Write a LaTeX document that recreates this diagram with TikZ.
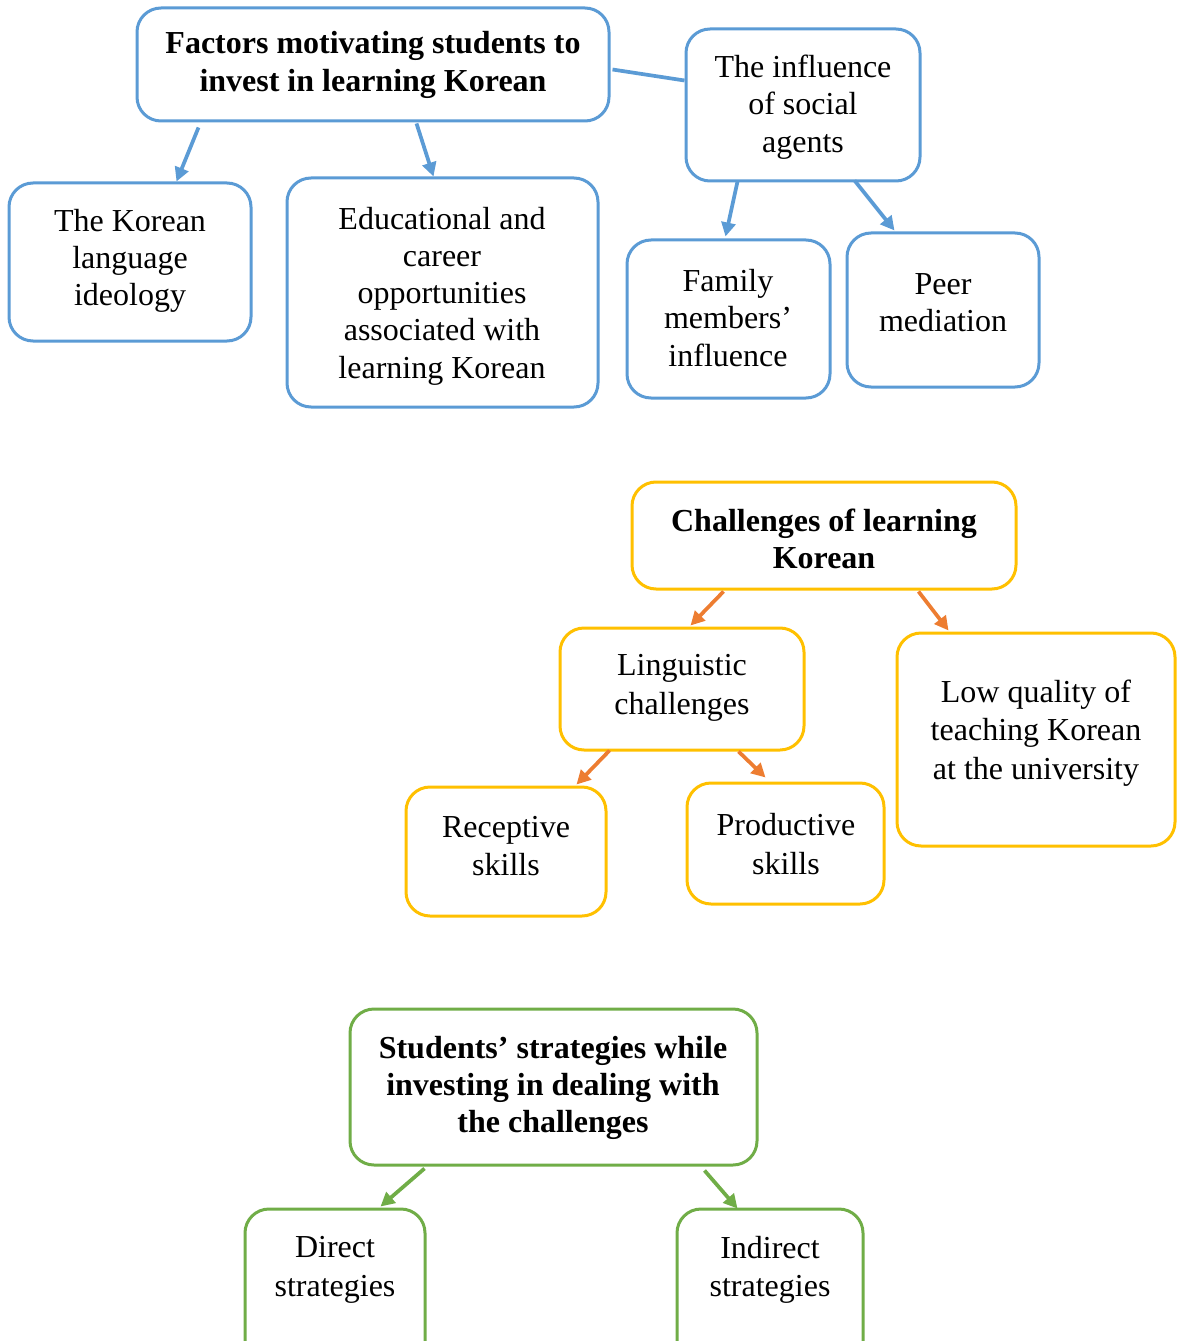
\documentclass[tikz,border=0pt]{standalone}
\usepackage{fontspec}
\setmainfont{Liberation Serif}
\usetikzlibrary{calc,arrows.meta}
\definecolor{cblue}{HTML}{5B9BD5}
\definecolor{cyel}{HTML}{FFC000}
\definecolor{corg}{HTML}{ED7D31}
\definecolor{cgrn}{HTML}{70AD47}
\tikzset{
  box/.style={draw, line width=2.25pt, rounded corners=18pt, fill=white, inner sep=0pt},
  bluebox/.style={box, draw=cblue},
  yelbox/.style={box, draw=cyel},
  grnbox/.style={box, draw=cgrn},
  txt/.style={align=center, inner sep=0pt, font=\fontsize{24}{27.9}\selectfont},
  wtxt/.style={align=center, inner sep=0pt, font=\fontsize{24}{29}\selectfont},
  btxt/.style={txt, font=\fontsize{24}{27.9}\selectfont\bfseries},
  arr/.style={line width=2.8pt, -{Triangle[length=10.5pt,width=10.5pt]}},
  barr/.style={arr, draw=cblue, fill=cblue},
  oarr/.style={arr, draw=corg, fill=corg},
  garr/.style={arr, draw=cgrn, fill=cgrn},
}
\begin{document}
\begin{tikzpicture}[x=0.75pt,y=-0.75pt]
\useasboundingbox (0,0) rectangle (1177,1341);
\clip (0,0) rectangle (1177,1341);
% boxes
\node[bluebox, minimum width=472*0.75pt, minimum height=113*0.75pt] (fac) at (373,64.5) {};
\node[bluebox, minimum width=234*0.75pt, minimum height=152*0.75pt] (inf) at (803,105) {};
\node[bluebox, minimum width=242*0.75pt, minimum height=158*0.75pt] (kor) at (130,262) {};
\node[bluebox, minimum width=311*0.75pt, minimum height=229*0.75pt] (edu) at (442.5,292.5) {};
\node[bluebox, minimum width=203*0.75pt, minimum height=158*0.75pt] (fam) at (728.5,319) {};
\node[bluebox, minimum width=192*0.75pt, minimum height=154*0.75pt] (peer) at (943,310) {};
\node[yelbox, minimum width=384*0.75pt, minimum height=107*0.75pt] (cha) at (824,535.5) {};
\node[yelbox, minimum width=244*0.75pt, minimum height=122*0.75pt] (lin) at (682,689) {};
\node[yelbox, minimum width=278*0.75pt, minimum height=213*0.75pt] (low) at (1036,739.5) {};
\node[yelbox, minimum width=200*0.75pt, minimum height=129*0.75pt] (rec) at (506,851.5) {};
\node[yelbox, minimum width=197*0.75pt, minimum height=121*0.75pt] (pro) at (785.5,843.5) {};
\node[grnbox, minimum width=407*0.75pt, minimum height=156*0.75pt] (stu) at (553.5,1087) {};
\node[grnbox, minimum width=180*0.75pt, minimum height=162*0.75pt] (dir) at (335,1290) {};
\node[grnbox, minimum width=186*0.75pt, minimum height=162*0.75pt] (ind) at (770,1290) {};
% texts
\node[btxt] (facT) at (373,65) {Factors motivating students to\\invest in learning Korean};
\node[txt] (infT) at (803,107) {The influence\\of social\\agents};
\node[txt] (korT) at (130,261) {The Korean\\language\\ideology};
\node[txt] (eduT) at (442,296) {Educational and\\career\\opportunities\\associated with\\learning Korean};
\node[txt] (famT) at (728,318) {Family\\members’\\influence};
\node[txt] (peerT) at (943,303) {Peer\\mediation};
\node[btxt] (chaT) at (824,539) {Challenges of learning\\Korean};
\node[wtxt] (linT) at (682,688) {Linguistic\\challenges};
\node[wtxt] (lowT) at (1036,733) {Low quality of\\teaching Korean\\at the university};
\node[wtxt] (recT) at (506,846) {Receptive\\skills};
\node[wtxt] (proT) at (786,844) {Productive\\skills};
\node[btxt] (stuT) at (553,1088) {Students’ strategies while\\investing in dealing with\\the challenges};
\node[wtxt] (dirT) at (335,1270) {Direct\\strategies};
\node[wtxt] (indT) at (770,1270) {Indirect\\strategies};
% connectors
\draw[barr] ($(fac.south west)+(63,5)$) -- ($(kor.north west)+(169,0)$);
\draw[barr] ($(fac.south west)+(281,1)$) -- ($(edu.north west)+(148,0)$);
\draw[cblue, line width=2.8pt] ($(fac.north east)+(2,63)$) -- ($(inf.north west)+(0,53)$);
\draw[barr] ($(inf.south west)+(53,-1)$) -- ($(fam.north west)+(100,-2)$);
\draw[barr] ($(inf.south west)+(170,-2)$) -- ($(peer.north west)+(49,-1)$);
\draw[oarr] ($(cha.south west)+(93,1)$) -- ($(lin.north west)+(132,-1)$);
\draw[oarr] ($(cha.south west)+(288,1)$) -- ($(low.north west)+(53,-1)$);
\draw[oarr] ($(lin.south west)+(51,-1)$) -- ($(rec.north west)+(172,-1)$);
\draw[oarr] ($(lin.south west)+(180,0)$) -- ($(pro.north west)+(80,-4)$);
\draw[garr] ($(stu.south west)+(76,2)$) -- ($(dir.north west)+(137,-1)$);
\draw[garr] ($(stu.south west)+(356,4)$) -- ($(ind.north west)+(62,1)$);
\end{tikzpicture}
\end{document}
